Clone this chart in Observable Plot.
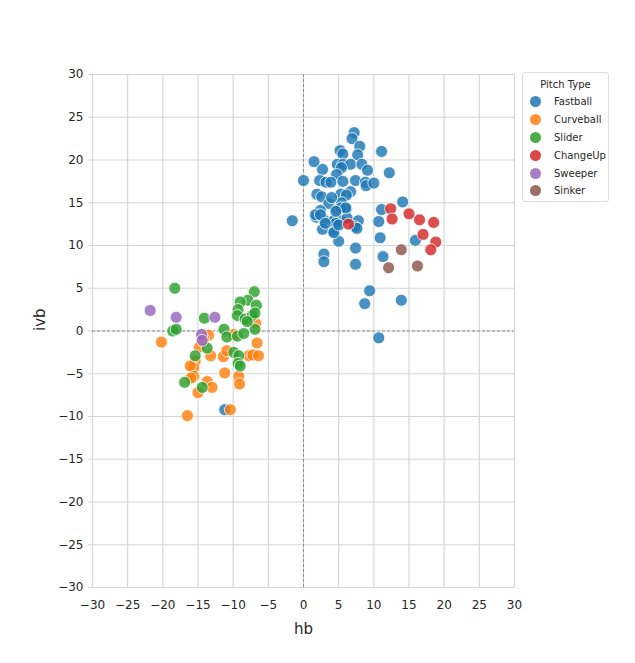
<!DOCTYPE html>
<html>
<head>
<meta charset="utf-8">
<script src="https://cdn.jsdelivr.net/npm/d3@7"></script>
<script src="https://cdn.jsdelivr.net/npm/@observablehq/plot@0.6"></script>
<style>
  body { margin: 0; background: #fff; }
  #wrap { position: relative; width: 635px; height: 663px; }
  .legend {
    position: absolute; left: 522px; top: 72px; width: 87px; height: 130px;
    box-sizing: border-box; border: 1px solid #dcdcdc; border-radius: 3px;
    background: #fff; font-family: "DejaVu Sans", sans-serif; font-size: 10px; color: #262626;
  }
  .legend .title { text-align: center; margin-top: 3px; height: 17px; line-height: 17px; }
  .legend .row { display: flex; align-items: center; height: 17.8px; }
  .legend .sw { width: 11px; height: 11px; border-radius: 50%; margin-left: 7px; margin-right: 13px; }
</style>
</head>
<body>
<div id="wrap"></div>
<script>
// Pitch types and their colours (seaborn default palette)
const pitchTypes = ["Fastball", "Curveball", "Slider", "ChangeUp", "Sweeper", "Sinker"];
const pitchColors = ["#1f77b4", "#ff7f0e", "#2ca02c", "#d62728", "#9467bd", "#8c564b"];

// Axis ticks
const ticks = [-30, -25, -20, -15, -10, -5, 0, 5, 10, 15, 20, 25, 30];

// [hb, ivb] per pitch
const fastball = [
  [7.2, 23.2], [6.9, 22.5], [8.0, 21.6], [5.2, 21.1], [5.6, 20.7], [7.7, 20.6], [11.1, 21.0],
  [1.5, 19.8], [4.8, 19.5], [5.6, 19.5], [6.7, 19.5], [5.4, 19.1], [8.3, 19.5], [2.7, 18.9],
  [9.1, 18.8], [12.2, 18.5], [4.7, 18.3], [0.0, 17.6], [2.3, 17.6], [3.2, 17.4], [3.9, 17.4],
  [5.6, 17.5], [7.4, 17.6], [8.8, 17.4], [8.9, 17.0], [10.0, 17.3], [6.7, 16.3], [1.9, 16.0],
  [2.6, 15.7], [5.3, 16.0], [6.1, 15.9], [3.6, 14.9], [5.4, 15.0], [14.1, 15.1], [2.4, 14.1],
  [4.8, 14.2], [6.1, 14.3], [11.1, 14.2], [1.8, 13.3], [2.9, 13.0], [4.3, 12.9], [5.3, 12.9],
  [6.2, 13.2], [7.8, 12.9], [10.7, 12.8], [-1.6, 12.9], [2.7, 11.9], [4.4, 11.7], [7.3, 12.2],
  [7.6, 12.0], [5.0, 10.5], [10.9, 10.9], [15.9, 10.6], [2.9, 9.0], [2.9, 8.1], [7.4, 9.7],
  [7.4, 7.8], [11.3, 8.7], [9.4, 4.7], [8.7, 3.2], [13.9, 3.6], [10.7, -0.8], [-11.2, -9.2],
  [1.7, 13.6], [2.4, 13.6], [4.6, 12.6], [5.3, 14.4], [6.0, 14.4], [4.6, 14.0], [4.3, 11.5],
  [5.0, 12.4], [4.0, 15.6], [3.1, 12.6]
];
const curveball = [
  [-20.2, -1.3], [-14.8, -1.9], [-15.4, -3.5], [-15.6, -4.3], [-16.1, -4.1], [-15.6, -5.3],
  [-16.0, -5.5], [-15.0, -7.2], [-16.5, -9.9], [-13.5, -0.5], [-9.9, -0.4], [-6.6, -1.4],
  [-6.8, 0.9], [-13.2, -2.9], [-11.4, -3.0], [-10.9, -2.3], [-7.8, -2.9], [-7.2, -2.8],
  [-6.4, -2.9], [-11.2, -4.9], [-9.2, -5.3], [-9.1, -6.2], [-13.7, -5.9], [-13.0, -6.6],
  [-10.4, -9.2], [-14.2, -0.9]
];
const slider = [
  [-18.3, 5.0], [-18.6, 0.0], [-18.1, 0.2], [-15.4, -2.9], [-16.9, -6.0], [-14.1, 1.5],
  [-7.0, 4.6], [-7.9, 3.6], [-9.0, 3.4], [-6.7, 3.0], [-9.3, 2.5], [-9.4, 1.8], [-8.3, 1.4],
  [-7.3, 1.8], [-6.9, 2.1], [-6.9, 0.2], [-11.3, 0.2], [-10.9, -0.7], [-9.4, -0.6],
  [-8.5, -0.3], [-13.7, -2.0], [-9.9, -2.5], [-9.2, -2.9], [-9.3, -3.8], [-9.0, -4.1],
  [-14.4, -6.6], [-8.0, 1.1]
];
const changeUp = [
  [6.4, 12.5], [12.4, 14.3], [12.6, 13.1], [15.0, 13.7], [16.5, 13.0], [18.5, 12.7],
  [17.0, 11.3], [18.8, 10.4], [18.1, 9.5]
];
const sweeper = [[-21.8, 2.4], [-18.1, 1.6], [-12.6, 1.6], [-14.5, -0.4], [-14.4, -1.1]];
const sinker = [[13.9, 9.5], [12.1, 7.4], [16.2, 7.6]];

const series = [fastball, curveball, slider, changeUp, sweeper, sinker];
const pitches = series.flatMap((pts, i) =>
  pts.map(([hb, ivb]) => ({ type: pitchTypes[i], hb, ivb }))
);

const gridColor = "#d4d4d4";

const chart = Plot.plot({
  width: 635,
  height: 663,
  marginLeft: 92,
  marginRight: 121,
  marginTop: 74,
  marginBottom: 76,
  style: { fontFamily: "DejaVu Sans, sans-serif", fontSize: "12px", color: "#262626", background: "#fff" },
  x: { domain: [-30, 30], label: null },
  y: { domain: [-30, 30], label: null },
  color: { domain: pitchTypes, range: pitchColors },
  marks: [
    Plot.gridX(ticks, { stroke: gridColor, strokeOpacity: 1, strokeWidth: 1.1 }),
    Plot.gridY(ticks, { stroke: gridColor, strokeOpacity: 1, strokeWidth: 1.1 }),
    Plot.axisX(ticks, { tickSize: 0, tickPadding: 13, label: null }),
    Plot.axisY(ticks, { tickSize: 4, tickPadding: 5, stroke: gridColor, label: null }),
    Plot.ruleX([0], { stroke: "#8c8c8c", strokeDasharray: "3,2", strokeWidth: 1 }),
    Plot.ruleY([0], { stroke: "#8c8c8c", strokeDasharray: "3,2", strokeWidth: 1 }),
    Plot.dot(pitches, {
      x: "hb", y: "ivb", fill: "type", r: 6,
      fillOpacity: 0.82, stroke: "#fff", strokeWidth: 0.8
    }),
    Plot.text(["hb"], { frameAnchor: "bottom", dy: 42, lineAnchor: "middle", fontSize: 15, fill: "#262626" }),
    Plot.text(["ivb"], { frameAnchor: "left", dx: -52, rotate: -90, lineAnchor: "middle", fontSize: 15, fill: "#262626" })
  ]
});

const wrap = document.getElementById("wrap");
wrap.appendChild(chart);

// Legend box
const legend = document.createElement("div");
legend.className = "legend";
const title = document.createElement("div");
title.className = "title";
title.textContent = "Pitch Type";
legend.appendChild(title);
pitchTypes.forEach((t, i) => {
  const row = document.createElement("div");
  row.className = "row";
  const sw = document.createElement("span");
  sw.className = "sw";
  sw.style.background = pitchColors[i];
  sw.style.opacity = 0.85;
  const lab = document.createElement("span");
  lab.textContent = t;
  row.appendChild(sw);
  row.appendChild(lab);
  legend.appendChild(row);
});
wrap.appendChild(legend);
</script>
</body>
</html>
